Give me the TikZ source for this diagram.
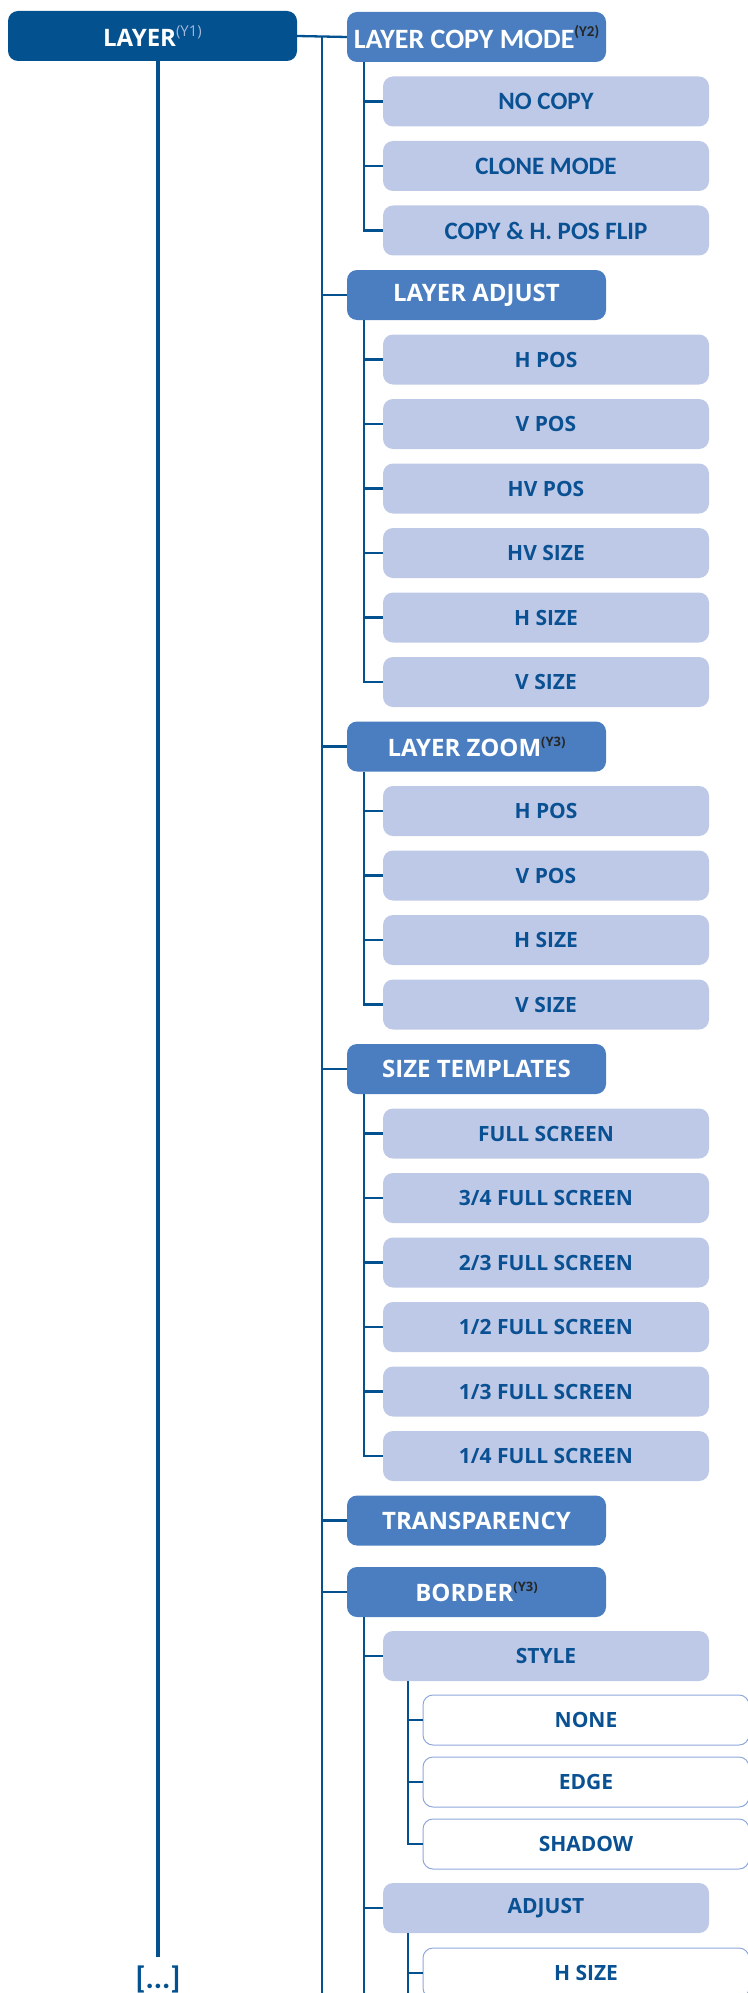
\documentclass[tikz,border=0pt]{standalone}
\usepackage{fontspec}
\setmainfont{Open Sans}
\newfontfamily\calfont{Carlito}
\definecolor{dkblue}{HTML}{03528F}
\definecolor{midblue}{HTML}{4A7EC0}
\definecolor{ltblue}{HTML}{BEC9E7}
\definecolor{txtblue}{HTML}{0A5193}
\definecolor{edgeblue}{HTML}{8EA8DB}
\definecolor{supgray}{HTML}{A3B5DA}
\definecolor{supdark}{HTML}{262626}
\newcommand\ysup[3]{\raisebox{0.42em}{\fontsize{#3}{#3}\selectfont\color{#1}#2}}
\tikzset{
  topbox/.style={rounded corners=10pt, fill=dkblue, text=white, minimum width=289pt, minimum height=50pt, inner sep=0pt, font=\bfseries\fontsize{24}{28}\selectfont},
  lvone/.style={rounded corners=10pt, fill=midblue, text=white, minimum width=259pt, minimum height=50pt, inner sep=0pt, font=\bfseries\fontsize{24}{28}\selectfont},
  lvtwo/.style={rounded corners=10pt, fill=ltblue, text=txtblue, minimum width=326pt, minimum height=50pt, inner sep=0pt, font=\bfseries\fontsize{21}{24}\selectfont},
  lvthree/.style={rounded corners=10pt, fill=white, draw=edgeblue, line width=1pt, text=txtblue, minimum width=326pt, minimum height=50pt, inner sep=0pt, font=\bfseries\fontsize{21}{24}\selectfont},
  cal/.style={font=\calfont\bfseries\fontsize{25}{28}\selectfont},
  calone/.style={font=\calfont\bfseries\fontsize{28}{30}\selectfont},
  conn/.style={draw=dkblue, line width=2.3pt},
  thickconn/.style={draw=dkblue, line width=4pt}
}
\begin{document}
\begin{tikzpicture}[x=1pt,y=-1pt]
\useasboundingbox (0,0) rectangle (747,1993);
% coordinates of the vertical lines
\coordinate (xt) at (322,0);
\coordinate (xa) at (364,0);
\coordinate (xb) at (408,0);
\coordinate (trunktop) at (322,37);
\coordinate (trunkbot) at (322,2000);
\coordinate (lbot) at (158,1957);

\node[topbox] (layer) at (152.5,36) {LAYER\ysup{supgray}{\mdseries(Y1)}{15}};

% level 1
\node[lvone,calone] (lcm) at (476.5,37) {LAYER COPY MODE\ysup{supdark}{(Y2)}{15}};
\node[lvone] (ladj) at (476.5,295) {LAYER ADJUST};
\node[lvone] (lzoom) at (476.5,746.5) {LAYER ZOOM\ysup{supdark}{(Y3)}{13}};
\node[lvone] (stemp) at (476.5,1069) {SIZE TEMPLATES};
\node[lvone] (transp) at (476.5,1520.5) {TRANSPARENCY};
\node[lvone] (border) at (476.5,1592) {BORDER\ysup{supdark}{(Y3)}{13}};

% level 2 : copy mode
\node[lvtwo,cal] (nocopy) at (546,101.5) {NO COPY};
\node[lvtwo,cal] (clone) at (546,166) {CLONE MODE};
\node[lvtwo,cal] (flip) at (546,230.5) {COPY \& H. POS FLIP};
% adjust
\node[lvtwo] (ahpos) at (546,359.5) {H POS};
\node[lvtwo] (avpos) at (546,424) {V POS};
\node[lvtwo] (ahvpos) at (546,488.5) {HV POS};
\node[lvtwo] (ahvsize) at (546,553) {HV SIZE};
\node[lvtwo] (ahsize) at (546,617.5) {H SIZE};
\node[lvtwo] (avsize) at (546,682) {V SIZE};
% zoom
\node[lvtwo] (zhpos) at (546,811) {H POS};
\node[lvtwo] (zvpos) at (546,875.5) {V POS};
\node[lvtwo] (zhsize) at (546,940) {H SIZE};
\node[lvtwo] (zvsize) at (546,1004.5) {V SIZE};
% size templates
\node[lvtwo] (full) at (546,1133.5) {FULL SCREEN};
\node[lvtwo] (tq) at (546,1198) {3/4 FULL SCREEN};
\node[lvtwo] (tt) at (546,1262.5) {2/3 FULL SCREEN};
\node[lvtwo] (half) at (546,1327) {1/2 FULL SCREEN};
\node[lvtwo] (third) at (546,1391.5) {1/3 FULL SCREEN};
\node[lvtwo] (quarter) at (546,1456) {1/4 FULL SCREEN};
% border
\node[lvtwo] (style) at (546,1656) {STYLE};
\node[lvtwo] (badj) at (546,1908) {ADJUST};
% level 3
\node[lvthree] (none) at (586,1720) {NONE};
\node[lvthree] (edge) at (586,1782) {EDGE};
\node[lvthree] (shadow) at (586,1844) {SHADOW};
\node[lvthree] (bhsize) at (586,1973) {H SIZE};

% connectors
\draw[thickconn] (layer.south -| lbot) -- (lbot);
\node[anchor=north, text=dkblue, font=\calfont\bfseries\fontsize{31}{33}\selectfont, inner sep=0pt] (more) at (158,1966) {[...]};

\draw[conn] (layer.east) -- (lcm.west);
\draw[conn] (trunktop) -- (trunkbot);
\foreach \n in {ladj,lzoom,stemp,transp,border}
  \draw[conn] (\n.west -| xt) -- (\n.west);

\draw[conn] (lcm.south -| xa) |- (flip.west);
\foreach \n in {nocopy,clone}
  \draw[conn] (\n.west -| xa) -- (\n.west);

\draw[conn] (ladj.south -| xa) |- (avsize.west);
\foreach \n in {ahpos,avpos,ahvpos,ahvsize,ahsize}
  \draw[conn] (\n.west -| xa) -- (\n.west);

\draw[conn] (lzoom.south -| xa) |- (zvsize.west);
\foreach \n in {zhpos,zvpos,zhsize}
  \draw[conn] (\n.west -| xa) -- (\n.west);

\draw[conn] (stemp.south -| xa) |- (quarter.west);
\foreach \n in {full,tq,tt,half,third}
  \draw[conn] (\n.west -| xa) -- (\n.west);

\coordinate (bbot) at (364,2000);
\draw[conn] (border.south -| xa) -- (bbot);
\foreach \n in {style,badj}
  \draw[conn] (\n.west -| xa) -- (\n.west);

\draw[conn] (style.south -| xb) |- (shadow.west);
\foreach \n in {none,edge}
  \draw[conn] (\n.west -| xb) -- (\n.west);

\coordinate (abot) at (408,2000);
\draw[conn] (badj.south -| xb) -- (abot);
\draw[conn] (bhsize.west -| xb) -- (bhsize.west);
\end{tikzpicture}
\end{document}
